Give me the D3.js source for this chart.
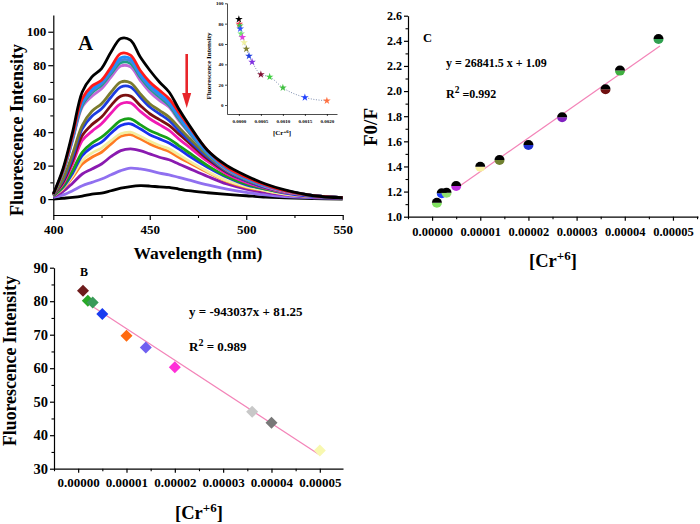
<!DOCTYPE html>
<html><head><meta charset="utf-8">
<script src="https://cdn.jsdelivr.net/npm/d3@7"></script>
<style>
body{margin:0;background:#fff}
svg text{font-family:"Liberation Serif","Times New Roman",serif;font-weight:bold;fill:#000}
</style></head>
<body><svg id="chart" width="700" height="524"></svg>
<script>
// ---------- Panel A: emission spectra ----------
const wavelengths = [400,405,410,415,420,425,430,435,440,445,450,455,460,465,470,480,490,500,510,520,535,550];
const spectrumColors = ["#000000","#ff1a1a","#1e90ff","#4a86d6","#1f9e86","#c06ad8","#7b7b2e","#1c3ce0","#7a1010","#f01ab4","#18a018","#1a30f0","#f3eea0","#ff7a22","#8a1ab0","#9070f0","#000000"];
const spec01 = [3,18,40,64,73,78,88,96,95,85,77,70,64,54,45,29,20,14,9,5.5,2,0.8];
const spec02 = [3,17,38,60,67.5,71,79,87,86,77,70,65,60,52,44,29,19,13,8.5,5,2,0.8];
const spec03 = [3,17,37,58,65.5,70,77,84.5,84,75,68,63,58,50,42,28,18.5,12.5,8,5,2,0.8];
const spec04 = [3,16,36,57,64.5,69,76,83,82.5,74,67,62,57,49,41,27.5,18,12,8,5,2,0.8];
const spec05 = [3,16,36,56,63.5,68,75,81.5,81,73,66,61,56,48,40.5,27,18,12,8,5,2,0.8];
const spec06 = [3,16,35,55,61.5,66,73,79.5,79,71,64,59,55,47,40,27,17.5,12,7.5,4.5,2,0.8];
const spec07 = [2.5,12,27,44,52.5,57,64,70,69.5,63,57,53,49,43,37,26,17,11.5,7.5,4.5,2,0.8];
const spec08 = [2.5,11,25,42,49.5,54,61,67,67,61,55,51,47,41,35.5,25,16.5,11,7,4.5,2,0.8];
const spec09 = [2.5,10,23,38,44.5,49,56,61.5,61.5,56,51,47.5,44,39,34,24,16,11,7,4.5,2,0.8];
const spec10 = [2.5,9,21,35,40.5,45,51.5,57,57.5,52.5,48,44.5,41,36,31.5,22.5,15,10,6.5,4,2,0.8];
const spec11 = [2,7.5,17,28,33.5,37,42,47,48,44.5,41,38.5,36,32,28,20,13.5,9,6,4,2,0.8];
const spec12 = [2,7,15.5,26,31,34,39.5,44,45,42,38.5,36,33.5,30,26,19,13,8.5,6,3.5,1.5,0.8];
const spec13 = [2,6.5,14,23,27.5,30.5,35,39,40,37.5,34.5,32,30,26.5,23,16.5,11,7.5,5,3,1.5,0.8];
const spec14 = [2,6,13,21,25,28,33,37.5,38.5,36,33,30.5,28.5,25,22,16,10.5,7,5,3,1.5,0.8];
const spec15 = [1.5,4.5,9.5,15,18,21,25.5,29,30,29,27,25,23.5,21,18.5,13.5,9,6,4,2.5,1.2,0.6];
const spec16 = [1,2.5,5,8,10,12,14.5,17,18.5,18,17,15.5,14.5,13,11.5,8.5,6,4,2.5,1.5,0.8,0.4];
const spec17 = [0,0.5,1,1.8,3,3.5,5,6.5,7.5,8,7.8,7.3,7,6,5,3.8,2.8,2,1.2,0.8,0.3,0];
const spectra = [spec01,spec02,spec03,spec04,spec05,spec06,spec07,spec08,spec09,spec10,spec11,spec12,spec13,spec14,spec15,spec16,spec17];
const aXTicks = [400,450,500,550];
const aXMinor = [425,475,525];
const aYTicks = [0,20,40,60,80,100];
const aYMinor = [10,30,50,70,90];

// ---------- Inset ----------
const insetConc = [0,0.00001,0.00002,0.00003,0.00005,0.00008,0.00012,0.00017,0.00023,0.0003,0.0005,0.0007,0.001,0.0015,0.002];
const insetIntensity = [84.4,79.7,78,75,70,66.6,61.4,55.2,48.3,42.4,30,27.7,17,7.5,4.2];
const insetColors = ["#000000","#ff3050","#40c040","#3050ff","#70e070","#e040e0","#f0f0a0","#808030","#2040e0","#8030e0","#801030","#40d040","#40c040","#2040ff","#ff7040"];
const insetXTicks = [0,0.0005,0.001,0.0015,0.002];
const insetYTicks = [0,20,40,60,80,100];

// ---------- Panel B ----------
const bConc = [0.000001,0.000002,0.000003,0.000005,0.00001,0.000014,0.00002,0.000036,0.00004,0.00005];
const bIntensity = [83.1,80.1,79.6,76.2,69.7,66.2,60.3,47.0,43.7,35.4];
const bColors = ["#6e1c1c","#28a828","#3a9a5a","#1a3cf0","#ff6a10","#7060f0","#ff30d8","#c8c8c8","#787878","#f8f8b0"];
const bFit = {slope:-943037, intercept:81.25, from:0.000001, to:0.00005};
const bXTicks = [0,0.00001,0.00002,0.00003,0.00004,0.00005];
const bYTicks = [30,40,50,60,70,80,90];

// ---------- Panel C ----------
const cConc = [0.000001,0.000002,0.000003,0.000005,0.00001,0.000014,0.00002,0.000027,0.000036,0.000039,0.000047];
const cRatio = [1.111,1.186,1.191,1.244,1.398,1.451,1.571,1.791,2.014,2.163,2.415];
const cColors = ["#80e060","#2040ff","#90e070","#c030e0","#f8f0a0","#708030","#2030d0","#8020c0","#701010","#40b040","#30a050"];
const cFit = {slope:26841.5, intercept:1.09, from:0.000005, to:0.0000473};
const cXTicks = [0,0.00001,0.00002,0.00003,0.00004,0.00005];
const cYTicks = [1.0,1.2,1.4,1.6,1.8,2.0,2.2,2.4,2.6];

const svg = d3.select("#chart");

function styleAxis(g, fs){
  g.attr("font-family",null).attr("font-size",null);
  g.selectAll("text").style("font-size",fs+"px").style("font-weight","bold")
   .style("font-family",'"Liberation Serif","Times New Roman",serif');
  g.selectAll("path,line").attr("stroke","#000").attr("stroke-width",1.2);
}
function minor(g, axisGen){
  g.call(axisGen.tickFormat("")); g.select(".domain").remove();
  g.selectAll("line").attr("stroke","#000").attr("stroke-width",1.1);
}

// ===== Panel A =====
const ax = d3.scaleLinear().domain([400,550]).range([53.3,342.7]);
const ay = d3.scaleLinear().domain([-9.5,110]).range([215,15]);
const gA = svg.append("g");
gA.append("g").attr("transform","translate(0,215)")
  .call(d3.axisBottom(ax).tickValues(aXTicks).tickSize(5).tickPadding(5).tickSizeOuter(0)).call(g=>styleAxis(g,13));
gA.append("g").attr("transform","translate(0,215)")
  .call(g=>minor(g,d3.axisBottom(ax).tickValues(aXMinor).tickSize(3)));
gA.append("g").attr("transform","translate(53.3,0)")
  .call(d3.axisLeft(ay).tickValues(aYTicks).tickSize(5).tickPadding(2).tickSizeOuter(0)).call(g=>styleAxis(g,13));
gA.append("g").attr("transform","translate(53.3,0)")
  .call(g=>minor(g,d3.axisLeft(ay).tickValues(aYMinor).tickSize(3)));

const specLine = d3.line().x((d,i)=>ax(wavelengths[i])).y(d=>ay(d)).curve(d3.curveCatmullRom.alpha(0.5));
const order = d3.range(spectra.length).reverse();
gA.append("g").selectAll("path").data(order).join("path")
  .attr("d",i=>specLine(spectra[i])).attr("fill","none")
  .attr("stroke",i=>spectrumColors[i]).attr("stroke-width",2.8).attr("stroke-linejoin","round");

gA.append("text").attr("x",78).attr("y",50).style("font-size","21px").text("A");
gA.append("text").attr("x",198).attr("y",259).attr("text-anchor","middle").style("font-size","17.5px").text("Wavelength (nm)");
gA.append("text").attr("transform","translate(23,130) rotate(-90)").attr("text-anchor","middle").style("font-size","18px").text("Fluorescence Intensity");
// red arrow
gA.append("line").attr("x1",186.7).attr("x2",186.7).attr("y1",54).attr("y2",96).attr("stroke","#e8252a").attr("stroke-width",2.6);
gA.append("path").attr("d","M182.2,93 L191.2,93 L186.7,108 Z").attr("fill","#e8252a");

// ===== Inset =====
const ix = d3.scaleLinear().domain([-0.00027,0.00223]).range([227,337]);
const iy = d3.scaleLinear().domain([-8.8,100.3]).range([114,3]);
const gI = svg.append("g");
gI.append("g").attr("transform","translate(0,114)")
  .call(d3.axisBottom(ix).tickValues(insetXTicks).tickFormat(d3.format(".4f")).tickSize(2).tickPadding(3).tickSizeOuter(0))
  .call(g=>{styleAxis(g,5);g.selectAll("path,line").attr("stroke-width",0.7);});
gI.append("g").attr("transform","translate(227,0)")
  .call(d3.axisLeft(iy).tickValues(insetYTicks).tickSize(2).tickPadding(1.5).tickSizeOuter(0))
  .call(g=>{styleAxis(g,5);g.selectAll("path,line").attr("stroke-width",0.7);});
gI.append("path").datum(insetConc.map((c,i)=>[c,insetIntensity[i]]))
  .attr("d",d3.line().x(d=>ix(d[0])).y(d=>iy(d[1])).curve(d3.curveMonotoneX))
  .attr("fill","none").attr("stroke","#8090b0").attr("stroke-width",1).attr("stroke-dasharray","1,1.6");
gI.append("g").selectAll("path").data(insetConc).join("path")
  .attr("transform",(d,i)=>`translate(${ix(d)},${iy(insetIntensity[i])})`)
  .attr("d",d3.symbol(d3.symbolStar,18)).attr("fill",(d,i)=>insetColors[i]);
gI.append("text").attr("x",282).attr("y",135).attr("text-anchor","middle").style("font-size","7px")
  .call(t=>{t.append("tspan").text("[Cr");t.append("tspan").attr("dy",-2.5).style("font-size","5px").text("+6");t.append("tspan").attr("dy",2.5).text("]");});
gI.append("text").attr("transform","translate(210.5,66) rotate(-90)").attr("text-anchor","middle").style("font-size","7px").text("Fluorescence Intensity");

// ===== Panel B =====
const bx = d3.scaleLinear().domain([-0.000005,0.0000548]).range([54,343]);
const by = d3.scaleLinear().domain([30,90]).range([468.7,267.7]);
const gB = svg.append("g");
gB.append("g").attr("transform","translate(0,468.7)")
  .call(d3.axisBottom(bx).tickValues(bXTicks).tickFormat(d3.format(".5f")).tickSize(4).tickPadding(5).tickSizeOuter(0)).call(g=>styleAxis(g,13));
gB.append("g").attr("transform","translate(0,468.7)")
  .call(g=>minor(g,d3.axisBottom(bx).tickValues([-0.000005,0.000005,0.000015,0.000025,0.000035,0.000045]).tickSize(2.5)));
gB.append("g").attr("transform","translate(54,0)")
  .call(d3.axisLeft(by).tickValues(bYTicks).tickSize(4).tickPadding(2).tickSizeOuter(0)).call(g=>styleAxis(g,14.5));
gB.append("g").attr("transform","translate(54,0)")
  .call(g=>minor(g,d3.axisLeft(by).tickValues([35,45,55,65,75,85]).tickSize(2.5)));
gB.append("line").attr("x1",bx(bFit.from)).attr("y1",by(bFit.slope*bFit.from+bFit.intercept))
  .attr("x2",bx(bFit.to)).attr("y2",by(bFit.slope*bFit.to+bFit.intercept)).attr("stroke","#f384b8").attr("stroke-width",1.2);
gB.append("g").selectAll("path").data(bConc).join("path")
  .attr("transform",(d,i)=>`translate(${bx(d)},${by(bIntensity[i])}) rotate(45)`)
  .attr("d",d3.symbol(d3.symbolSquare,72)).attr("fill",(d,i)=>bColors[i]);
gB.append("text").attr("x",80).attr("y",276).style("font-size","12px").text("B");
gB.append("text").attr("x",189).attr("y",316).style("font-size","13px").text("y = -943037x + 81.25");
gB.append("text").attr("x",189).attr("y",351).style("font-size","13px")
  .call(t=>{t.append("tspan").text("R");t.append("tspan").attr("dy",-5).style("font-size","10px").text("2");t.append("tspan").attr("dy",5).text(" = 0.989");});
gB.append("text").attr("x",199).attr("y",519).attr("text-anchor","middle").style("font-size","18.5px")
  .call(t=>{t.append("tspan").text("[Cr");t.append("tspan").attr("dy",-7).style("font-size","13px").text("+6");t.append("tspan").attr("dy",7).text("]");});
gB.append("text").attr("transform","translate(16,361) rotate(-90)").attr("text-anchor","middle").style("font-size","17.8px").text("Fluorescence Intensity");

// ===== Panel C =====
const cx = d3.scaleLinear().domain([-0.000005,0.0000552]).range([408,698]);
const cy = d3.scaleLinear().domain([1.0,2.6]).range([216.7,15.7]);
const gC = svg.append("g");
gC.append("g").attr("transform","translate(0,216.7)")
  .call(d3.axisBottom(cx).tickValues(cXTicks).tickFormat(d3.format(".5f")).tickSize(4).tickPadding(6).tickSizeOuter(0)).call(g=>styleAxis(g,12.5));
gC.append("g").attr("transform","translate(0,216.7)")
  .call(g=>minor(g,d3.axisBottom(cx).tickValues([-0.000005,0.000005,0.000015,0.000025,0.000035,0.000045,0.000055]).tickSize(2.5)));
gC.append("g").attr("transform","translate(408,0)")
  .call(d3.axisLeft(cy).tickValues(cYTicks).tickFormat(d3.format(".1f")).tickSize(4).tickPadding(2).tickSizeOuter(0)).call(g=>styleAxis(g,12));
gC.append("g").attr("transform","translate(408,0)")
  .call(g=>minor(g,d3.axisLeft(cy).tickValues([1.1,1.3,1.5,1.7,1.9,2.1,2.3,2.5]).tickSize(2.5)));
gC.append("line").attr("x1",cx(cFit.from)).attr("y1",cy(cFit.slope*cFit.from+cFit.intercept))
  .attr("x2",cx(cFit.to)).attr("y2",cy(cFit.slope*cFit.to+cFit.intercept)).attr("stroke","#f384b8").attr("stroke-width",1.2);
const halfTop = d3.arc().innerRadius(0).outerRadius(5).startAngle(-Math.PI/2).endAngle(Math.PI/2);
const halfBot = d3.arc().innerRadius(0).outerRadius(5).startAngle(Math.PI/2).endAngle(Math.PI*1.5);
const pts = gC.append("g").selectAll("g").data(cConc).join("g")
  .attr("transform",(d,i)=>`translate(${cx(d)},${cy(cRatio[i])})`);
pts.append("path").attr("d",halfBot()).attr("fill",(d,i)=>cColors[i]);
pts.append("path").attr("d",halfTop()).attr("fill","#000");
gC.append("text").attr("x",423).attr("y",42).style("font-size","12.5px").text("C");
gC.append("text").attr("x",446).attr("y",67).style("font-size","12px").text("y = 26841.5 x + 1.09");
gC.append("text").attr("x",446).attr("y",97.5).style("font-size","12px")
  .call(t=>{t.append("tspan").text("R");t.append("tspan").attr("dy",-5).style("font-size","9.5px").text("2");t.append("tspan").attr("dy",6).text(" =");t.append("tspan").attr("dy",-1).text("0.992");});
gC.append("text").attr("x",553).attr("y",267).attr("text-anchor","middle").style("font-size","18.5px")
  .call(t=>{t.append("tspan").text("[Cr");t.append("tspan").attr("dy",-7).style("font-size","13px").text("+6");t.append("tspan").attr("dy",7).text("]");});
gC.append("text").attr("transform","translate(377,127) rotate(-90)").attr("text-anchor","middle").style("font-size","19px").text("F0/F");
</script></body></html>
